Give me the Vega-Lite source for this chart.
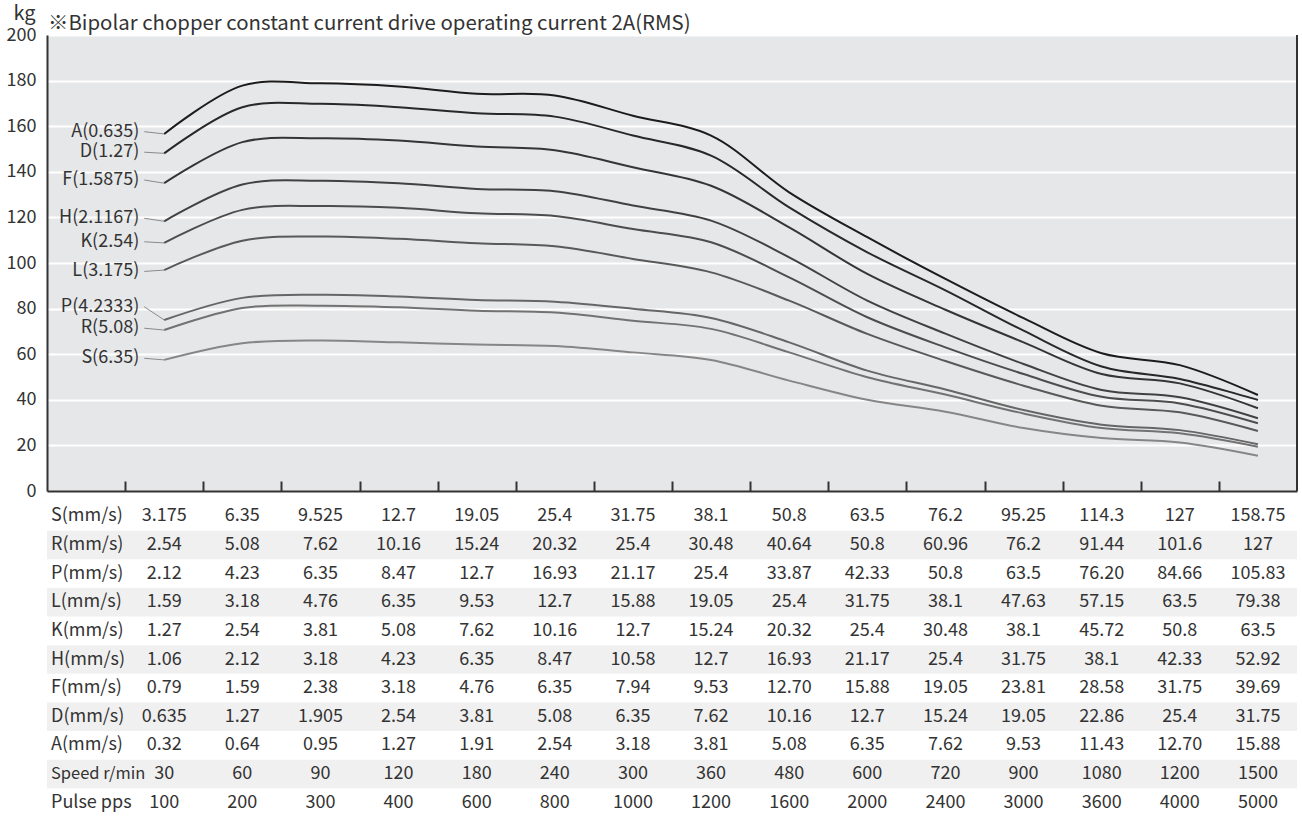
{
  "$schema": "https://vega.github.io/schema/vega-lite/v6.json",
  "padding": {"left": 6, "top": 3, "right": 0, "bottom": 0},
  "config": {"font": "Noto Sans CJK JP", "view": {"stroke": null}},
  "datasets": {
    "curves": [
      {"c": 1, "A": 156.6, "D": 148.1, "F": 135.0, "H": 118.3, "K": 108.8, "L": 96.9, "P": 75.0, "R": 70.6, "S": 57.5},
      {"c": 2, "A": 177.8, "D": 168.3, "F": 153.0, "H": 134.4, "K": 123.3, "L": 109.8, "P": 84.7, "R": 80.3, "S": 64.8},
      {"c": 3, "A": 178.8, "D": 169.8, "F": 154.7, "H": 136.1, "K": 125.0, "L": 111.6, "P": 86.1, "R": 81.3, "S": 66.0},
      {"c": 4, "A": 177.4, "D": 168.3, "F": 153.7, "H": 135.0, "K": 124.2, "L": 110.6, "P": 85.3, "R": 80.6, "S": 65.2},
      {"c": 5, "A": 174.2, "D": 165.7, "F": 151.1, "H": 132.5, "K": 121.8, "L": 108.7, "P": 83.8, "R": 79.1, "S": 64.2},
      {"c": 6, "A": 173.5, "D": 164.2, "F": 149.5, "H": 131.5, "K": 120.6, "L": 107.3, "P": 83.0, "R": 78.3, "S": 63.6},
      {"c": 7, "A": 164.6, "D": 155.9, "F": 142.0, "H": 125.2, "K": 114.9, "L": 101.8, "P": 79.9, "R": 74.7, "S": 60.8},
      {"c": 8, "A": 155.9, "D": 147.1, "F": 133.9, "H": 118.6, "K": 109.1, "L": 95.9, "P": 75.9, "R": 71.1, "S": 57.5},
      {"c": 9, "A": 131.0, "D": 124.4, "F": 115.6, "H": 102.5, "K": 93.7, "L": 83.5, "P": 65.2, "R": 60.8, "S": 48.4},
      {"c": 10, "A": 111.3, "D": 104.7, "F": 95.2, "H": 83.5, "K": 76.2, "L": 68.9, "P": 52.8, "R": 49.9, "S": 40.0},
      {"c": 11, "A": 93.0, "D": 88.0, "F": 79.5, "H": 69.0, "K": 63.0, "L": 57.0, "P": 44.5, "R": 42.3, "S": 34.8},
      {"c": 12, "A": 75.8, "D": 70.3, "F": 65.2, "H": 55.7, "K": 51.3, "L": 46.2, "P": 35.5, "R": 34.0, "S": 27.6},
      {"c": 13, "A": 60.4, "D": 54.6, "F": 51.3, "H": 44.3, "K": 41.3, "L": 37.4, "P": 29.1, "R": 27.6, "S": 23.2},
      {"c": 14, "A": 55.2, "D": 49.1, "F": 47.2, "H": 41.1, "K": 38.4, "L": 34.5, "P": 26.7, "R": 25.3, "S": 21.3},
      {"c": 15, "A": 42.1, "D": 39.9, "F": 36.3, "H": 31.9, "K": 29.7, "L": 26.3, "P": 20.5, "R": 19.4, "S": 15.5}
    ],
    "labels": [
      {"series": "A", "label": "A(0.635)", "at": 157.6, "start": 156.6},
      {"series": "D", "label": "D(1.27)", "at": 148.6, "start": 148.1},
      {"series": "F", "label": "F(1.5875)", "at": 136.4, "start": 135.0},
      {"series": "H", "label": "H(2.1167)", "at": 119.6, "start": 118.3},
      {"series": "K", "label": "K(2.54)", "at": 109.3, "start": 108.8},
      {"series": "L", "label": "L(3.175)", "at": 96.3, "start": 96.9},
      {"series": "P", "label": "P(4.2333)", "at": 80.8, "start": 75.0},
      {"series": "R", "label": "R(5.08)", "at": 71.4, "start": 70.6},
      {"series": "S", "label": "S(6.35)", "at": 58.2, "start": 57.5}
    ],
    "rows": [
      {"row": "S(mm/s)", "stripe": false},
      {"row": "R(mm/s)", "stripe": true},
      {"row": "P(mm/s)", "stripe": false},
      {"row": "L(mm/s)", "stripe": true},
      {"row": "K(mm/s)", "stripe": false},
      {"row": "H(mm/s)", "stripe": true},
      {"row": "F(mm/s)", "stripe": false},
      {"row": "D(mm/s)", "stripe": true},
      {"row": "A(mm/s)", "stripe": false},
      {"row": "Speed r/min", "stripe": true},
      {"row": "Pulse pps", "stripe": false}
    ],
    "table": [
      {"c": 1, "S(mm/s)": "3.175", "R(mm/s)": "2.54", "P(mm/s)": "2.12", "L(mm/s)": "1.59", "K(mm/s)": "1.27", "H(mm/s)": "1.06", "F(mm/s)": "0.79", "D(mm/s)": "0.635", "A(mm/s)": "0.32", "Speed r/min": "30", "Pulse pps": "100"},
      {"c": 2, "S(mm/s)": "6.35", "R(mm/s)": "5.08", "P(mm/s)": "4.23", "L(mm/s)": "3.18", "K(mm/s)": "2.54", "H(mm/s)": "2.12", "F(mm/s)": "1.59", "D(mm/s)": "1.27", "A(mm/s)": "0.64", "Speed r/min": "60", "Pulse pps": "200"},
      {"c": 3, "S(mm/s)": "9.525", "R(mm/s)": "7.62", "P(mm/s)": "6.35", "L(mm/s)": "4.76", "K(mm/s)": "3.81", "H(mm/s)": "3.18", "F(mm/s)": "2.38", "D(mm/s)": "1.905", "A(mm/s)": "0.95", "Speed r/min": "90", "Pulse pps": "300"},
      {"c": 4, "S(mm/s)": "12.7", "R(mm/s)": "10.16", "P(mm/s)": "8.47", "L(mm/s)": "6.35", "K(mm/s)": "5.08", "H(mm/s)": "4.23", "F(mm/s)": "3.18", "D(mm/s)": "2.54", "A(mm/s)": "1.27", "Speed r/min": "120", "Pulse pps": "400"},
      {"c": 5, "S(mm/s)": "19.05", "R(mm/s)": "15.24", "P(mm/s)": "12.7", "L(mm/s)": "9.53", "K(mm/s)": "7.62", "H(mm/s)": "6.35", "F(mm/s)": "4.76", "D(mm/s)": "3.81", "A(mm/s)": "1.91", "Speed r/min": "180", "Pulse pps": "600"},
      {"c": 6, "S(mm/s)": "25.4", "R(mm/s)": "20.32", "P(mm/s)": "16.93", "L(mm/s)": "12.7", "K(mm/s)": "10.16", "H(mm/s)": "8.47", "F(mm/s)": "6.35", "D(mm/s)": "5.08", "A(mm/s)": "2.54", "Speed r/min": "240", "Pulse pps": "800"},
      {"c": 7, "S(mm/s)": "31.75", "R(mm/s)": "25.4", "P(mm/s)": "21.17", "L(mm/s)": "15.88", "K(mm/s)": "12.7", "H(mm/s)": "10.58", "F(mm/s)": "7.94", "D(mm/s)": "6.35", "A(mm/s)": "3.18", "Speed r/min": "300", "Pulse pps": "1000"},
      {"c": 8, "S(mm/s)": "38.1", "R(mm/s)": "30.48", "P(mm/s)": "25.4", "L(mm/s)": "19.05", "K(mm/s)": "15.24", "H(mm/s)": "12.7", "F(mm/s)": "9.53", "D(mm/s)": "7.62", "A(mm/s)": "3.81", "Speed r/min": "360", "Pulse pps": "1200"},
      {"c": 9, "S(mm/s)": "50.8", "R(mm/s)": "40.64", "P(mm/s)": "33.87", "L(mm/s)": "25.4", "K(mm/s)": "20.32", "H(mm/s)": "16.93", "F(mm/s)": "12.70", "D(mm/s)": "10.16", "A(mm/s)": "5.08", "Speed r/min": "480", "Pulse pps": "1600"},
      {"c": 10, "S(mm/s)": "63.5", "R(mm/s)": "50.8", "P(mm/s)": "42.33", "L(mm/s)": "31.75", "K(mm/s)": "25.4", "H(mm/s)": "21.17", "F(mm/s)": "15.88", "D(mm/s)": "12.7", "A(mm/s)": "6.35", "Speed r/min": "600", "Pulse pps": "2000"},
      {"c": 11, "S(mm/s)": "76.2", "R(mm/s)": "60.96", "P(mm/s)": "50.8", "L(mm/s)": "38.1", "K(mm/s)": "30.48", "H(mm/s)": "25.4", "F(mm/s)": "19.05", "D(mm/s)": "15.24", "A(mm/s)": "7.62", "Speed r/min": "720", "Pulse pps": "2400"},
      {"c": 12, "S(mm/s)": "95.25", "R(mm/s)": "76.2", "P(mm/s)": "63.5", "L(mm/s)": "47.63", "K(mm/s)": "38.1", "H(mm/s)": "31.75", "F(mm/s)": "23.81", "D(mm/s)": "19.05", "A(mm/s)": "9.53", "Speed r/min": "900", "Pulse pps": "3000"},
      {"c": 13, "S(mm/s)": "114.3", "R(mm/s)": "91.44", "P(mm/s)": "76.20", "L(mm/s)": "57.15", "K(mm/s)": "45.72", "H(mm/s)": "38.1", "F(mm/s)": "28.58", "D(mm/s)": "22.86", "A(mm/s)": "11.43", "Speed r/min": "1080", "Pulse pps": "3600"},
      {"c": 14, "S(mm/s)": "127", "R(mm/s)": "101.6", "P(mm/s)": "84.66", "L(mm/s)": "63.5", "K(mm/s)": "50.8", "H(mm/s)": "42.33", "F(mm/s)": "31.75", "D(mm/s)": "25.4", "A(mm/s)": "12.70", "Speed r/min": "1200", "Pulse pps": "4000"},
      {"c": 15, "S(mm/s)": "158.75", "R(mm/s)": "127", "P(mm/s)": "105.83", "L(mm/s)": "79.38", "K(mm/s)": "63.5", "H(mm/s)": "52.92", "F(mm/s)": "39.69", "D(mm/s)": "31.75", "A(mm/s)": "15.88", "Speed r/min": "1500", "Pulse pps": "5000"}
    ]
  },
  "spacing": 2,
  "resolve": {"scale": {"x": "independent", "y": "independent", "color": "independent"}},
  "vconcat": [
    {
      "width": 1250,
      "height": 456,
      "view": {"fill": "#e6e7e9", "stroke": null},
      "title": {"text": "※Bipolar chopper constant current drive operating current 2A(RMS)", "anchor": "start", "frame": "group", "baseline": "alphabetic", "offset": 6, "dy": 53, "fontSize": 20.4, "fontWeight": "normal", "color": "#333333", "dx": 1},
      "layer": [
        {
          "data": {"name": "curves"},
          "transform": [{"fold": ["A", "D", "F", "H", "K", "L", "P", "R", "S"], "as": ["series", "kg"]}],
          "mark": {"type": "line", "interpolate": "catmull-rom", "strokeWidth": 2},
          "encoding": {
            "x": {"field": "c", "type": "quantitative", "scale": {"domain": [-0.5, 15.5], "nice": false, "zero": false},
              "axis": {"values": [0.5, 1.5, 2.5, 3.5, 4.5, 5.5, 6.5, 7.5, 8.5, 9.5, 10.5, 11.5, 12.5, 13.5, 14.5], "labels": false, "tickSize": -10, "tickColor": "#333333", "tickWidth": 2, "domainColor": "#333333", "domainWidth": 2, "grid": false, "title": null}},
            "y": {"field": "kg", "type": "quantitative", "title": "kg", "scale": {"domain": [0, 200], "nice": false},
              "axis": {"values": [0, 20, 40, 60, 80, 100, 120, 140, 160, 180, 200], "grid": true,
                "gridColor": {"condition": {"test": "datum.value === 0", "value": "transparent"}, "value": "#ffffff"},
                "gridWidth": 2, "ticks": false, "labelPadding": 11, "labelFontSize": 18, "labelColor": "#333333",
                "domainColor": "#333333", "domainWidth": 2, "titleAngle": 0, "titleX": -34, "titleY": -16, "titleAlign": "left", "titleBaseline": "alphabetic", "titleFontSize": 20, "titleFontWeight": "normal", "titleColor": "#333333"}},
            "color": {"field": "series", "type": "nominal", "legend": null,
              "scale": {"domain": ["A", "D", "F", "H", "K", "L", "P", "R", "S"], "range": ["#1c1c1c", "#282828", "#353535", "#414141", "#4d4d4d", "#595959", "#666666", "#727272", "#868686"]}}
          }
        },
        {
          "data": {"name": "labels"},
          "mark": {"type": "rule", "color": "#8a8a8a", "strokeWidth": 1},
          "encoding": {
            "x": {"datum": 0.745},
            "x2": {"datum": 1},
            "y": {"field": "at", "type": "quantitative", "title": "kg"},
            "y2": {"field": "start"}
          }
        },
        {
          "data": {"name": "labels"},
          "mark": {"type": "text", "align": "right", "baseline": "middle", "dx": -5, "fontSize": 18, "color": "#333333"},
          "encoding": {
            "x": {"datum": 0.745},
            "y": {"field": "at", "type": "quantitative", "title": "kg"},
            "text": {"field": "label"}
          }
        },
        {
          "data": {"values": [{}]},
          "mark": {"type": "rule", "color": "#333333", "strokeWidth": 2},
          "encoding": {"x": {"datum": 15.5}}
        }
      ]
    },
    {
      "width": 1250,
      "height": 315,
      "layer": [
        {
          "data": {"name": "rows"},
          "transform": [{"filter": "datum.stripe"}],
          "mark": {"type": "rect", "color": "#f0f0f0"},
          "encoding": {
            "x": {"datum": -0.5, "scale": {"domain": [-0.5, 15.5], "nice": false, "zero": false}, "axis": null},
            "x2": {"datum": 15.5},
            "y": {"field": "row", "type": "ordinal", "axis": null, "sort": null,
              "scale": {"domain": ["S(mm/s)", "R(mm/s)", "P(mm/s)", "L(mm/s)", "K(mm/s)", "H(mm/s)", "F(mm/s)", "D(mm/s)", "A(mm/s)", "Speed r/min", "Pulse pps"], "paddingInner": 0, "paddingOuter": 0}}
          }
        },
        {
          "data": {"name": "rows"},
          "mark": {"type": "text", "align": "left", "baseline": "middle", "dx": 4, "color": "#333333"},
          "encoding": {
            "x": {"datum": -0.5},
            "y": {"field": "row", "type": "ordinal", "axis": null},
            "text": {"field": "row"},
            "size": {"condition": {"test": "datum.row === 'Speed r/min'", "value": 16.5}, "value": 18}
          }
        },
        {
          "data": {"name": "table"},
          "transform": [{"fold": ["S(mm/s)", "R(mm/s)", "P(mm/s)", "L(mm/s)", "K(mm/s)", "H(mm/s)", "F(mm/s)", "D(mm/s)", "A(mm/s)", "Speed r/min", "Pulse pps"], "as": ["row", "val"]}],
          "mark": {"type": "text", "align": "center", "baseline": "middle", "fontSize": 18, "color": "#333333"},
          "encoding": {
            "x": {"field": "c", "type": "quantitative"},
            "y": {"field": "row", "type": "ordinal", "axis": null},
            "text": {"field": "val"}
          }
        }
      ]
    }
  ]
}
